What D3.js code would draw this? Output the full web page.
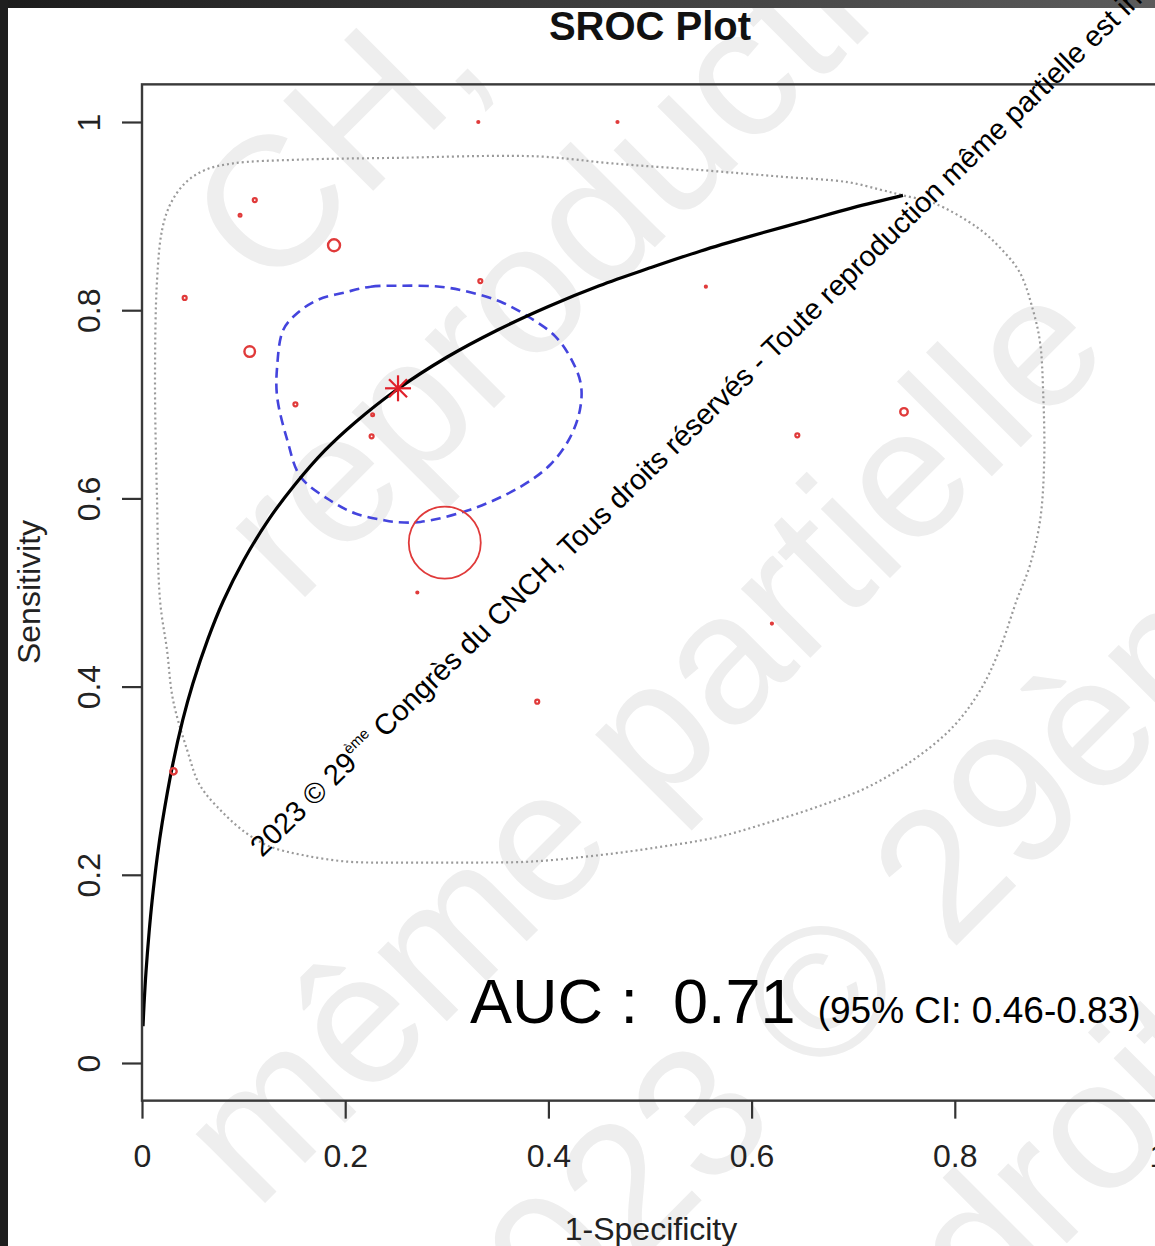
<!DOCTYPE html>
<html>
<head>
<meta charset="utf-8">
<script src="https://cdn.jsdelivr.net/npm/d3@7"></script>
<style>
  body { margin: 0; background: #fff; }
  svg { display: block; }
  text { font-family: "Liberation Sans", Arial, Helvetica, sans-serif; }
</style>
</head>
<body>
<svg id="chart" width="1155" height="1246"></svg>
<script>
// ---- data ---------------------------------------------------------------
const xTicks = [0, 0.2, 0.4, 0.6, 0.8, 1];
const yTicks = [0, 0.2, 0.4, 0.6, 0.8, 1];

// individual studies (false positive rate, sensitivity, weight)
const studyFpr  = [0.331, 0.468, 0.111, 0.0965, 0.189, 0.042, 0.333, 0.555, 0.106, 0.151,
                   0.227, 0.226, 0.750, 0.645, 0.298, 0.271, 0.620, 0.389, 0.031];
const studySens = [1.000, 1.000, 0.917, 0.901, 0.869, 0.813, 0.831, 0.825, 0.756, 0.700,
                   0.689, 0.666, 0.692, 0.667, 0.553, 0.500, 0.467, 0.384, 0.310];
const studyWeight = [1, 1, 4, 2, 36, 4, 4, 1, 28, 4, 2, 4, 14, 4, 1296, 1, 1, 4, 10];

// summary operating point
const summaryFpr = [0.252];
const summarySens = [0.717];

// SROC curve
const srocFpr  = [0.001, 0.002, 0.004, 0.007, 0.010, 0.015, 0.020, 0.030, 0.040, 0.050,
                  0.065, 0.080, 0.100, 0.125, 0.150, 0.180, 0.210, 0.250, 0.300, 0.350,
                  0.400, 0.450, 0.500, 0.550, 0.600, 0.650, 0.700, 0.749];
const srocSens = [0.039, 0.062, 0.098, 0.139, 0.173, 0.219, 0.256, 0.316, 0.364, 0.403,
                  0.451, 0.491, 0.534, 0.578, 0.614, 0.651, 0.681, 0.715, 0.750, 0.779,
                  0.804, 0.826, 0.845, 0.863, 0.879, 0.894, 0.909, 0.922];

// 95% confidence region of the summary point
const confFpr  = [0.200, 0.225, 0.254, 0.293, 0.323, 0.353, 0.382, 0.407, 0.423, 0.432,
                  0.431, 0.421, 0.402, 0.372, 0.323, 0.274, 0.249, 0.237, 0.210, 0.185,
                  0.156, 0.143, 0.133, 0.133, 0.139, 0.153, 0.173];
const confSens = [0.819, 0.825, 0.826, 0.825, 0.819, 0.809, 0.792, 0.772, 0.747, 0.721,
                  0.694, 0.664, 0.636, 0.612, 0.588, 0.575, 0.575, 0.577, 0.584, 0.598,
                  0.623, 0.662, 0.708, 0.740, 0.779, 0.797, 0.811];

// 95% prediction region
const predFpr  = [0.0148, 0.0197, 0.0276, 0.0423, 0.0620, 0.0896, 0.1555, 0.254, 0.352, 0.397,
                  0.463, 0.549, 0.628, 0.695, 0.727, 0.749, 0.779, 0.822, 0.844, 0.864,
                  0.877, 0.884, 0.887, 0.888, 0.884, 0.874, 0.861, 0.844, 0.825, 0.798,
                  0.759, 0.714, 0.664, 0.615, 0.566, 0.500, 0.451, 0.382, 0.316, 0.251,
                  0.202, 0.158, 0.126, 0.103, 0.0797, 0.0571, 0.0443, 0.0305, 0.0246, 0.0177,
                  0.0148, 0.0128];
const predSens = [0.832, 0.885, 0.912, 0.935, 0.949, 0.956, 0.960, 0.962, 0.964, 0.963,
                  0.956, 0.949, 0.942, 0.936, 0.928, 0.922, 0.914, 0.888, 0.867, 0.840,
                  0.800, 0.765, 0.712, 0.641, 0.577, 0.529, 0.492, 0.439, 0.396, 0.357,
                  0.322, 0.293, 0.272, 0.255, 0.240, 0.228, 0.221, 0.214, 0.213, 0.213,
                  0.214, 0.221, 0.230, 0.244, 0.266, 0.295, 0.333, 0.386, 0.439, 0.492,
                  0.598, 0.726];

const aucValue = "0.71";
const aucCiLow = "0.46";
const aucCiHigh = "0.83";

const titleText = "SROC Plot";
const xTitle = "1-Specificity";
const yTitle = "Sensitivity";

// ---- drawing ------------------------------------------------------------
const W = 1155, H = 1246;
const svg = d3.select("#chart");

const x = d3.scaleLinear().domain([0, 1]).range([142, 1158]);
const y = d3.scaleLinear().domain([0, 1]).range([1063, 122]);
const r = d3.scaleSqrt().domain([0, 1296]).range([0, 36]);

svg.append("rect").attr("width", W).attr("height", H).attr("fill", "#fff");

// faint background watermark
const wm = svg.append("g").attr("fill", "#eeeeee").attr("font-size", 185);
[
  { t: "CH,", x0: 268, y0: 296 },
  { t: "reproduction", x0: 296, y0: 606 },
  { t: "même partielle", x0: 256, y0: 1212 },
  { t: "2023 © 29ème", x0: 490, y0: 1412 },
  { t: "droits", x0: 985, y0: 1325 }
].forEach(d => {
  wm.append("text").attr("x", d.x0).attr("y", d.y0)
    .attr("transform", `rotate(-45,${d.x0},${d.y0})`).text(d.t);
});

// dark frame of the slide
const grad = svg.append("defs").append("linearGradient").attr("id", "topband");
grad.append("stop").attr("offset", "0%").attr("stop-color", "#1c1c1c");
grad.append("stop").attr("offset", "100%").attr("stop-color", "#5c5c5c");
svg.append("rect").attr("x", 0).attr("y", 0).attr("width", W).attr("height", 8).attr("fill", "url(#topband)");
svg.append("rect").attr("x", 0).attr("y", 0).attr("width", 8).attr("height", H).attr("fill", "#1e1e1e");

// title
svg.append("text").attr("x", 650).attr("y", 40).attr("text-anchor", "middle")
  .attr("font-size", 40).attr("font-weight", "bold").attr("fill", "#111").text(titleText);

// region outlines and curve
const closed = d3.line().x(d => x(d[0])).y(d => y(d[1])).curve(d3.curveCatmullRomClosed.alpha(0.5));
const open = d3.line().x(d => x(d[0])).y(d => y(d[1])).curve(d3.curveCatmullRom.alpha(0.5));

svg.append("path").datum(predFpr.map((v, i) => [v, predSens[i]]))
  .attr("d", closed).attr("fill", "none").attr("stroke", "#9a9a9a")
  .attr("stroke-width", 2.2).attr("stroke-dasharray", "2,3");

svg.append("path").datum(confFpr.map((v, i) => [v, confSens[i]]))
  .attr("d", closed).attr("fill", "none").attr("stroke", "#4444dd")
  .attr("stroke-width", 2.6).attr("stroke-dasharray", "10,6");

svg.append("path").datum(srocFpr.map((v, i) => [v, srocSens[i]]))
  .attr("d", open).attr("fill", "none").attr("stroke", "#000")
  .attr("stroke-width", 3.2).attr("stroke-linejoin", "round");

// studies
svg.append("g").selectAll("circle")
  .data(studyFpr.map((v, i) => ({ f: v, s: studySens[i], w: studyWeight[i] })))
  .join("circle")
  .attr("cx", d => x(d.f)).attr("cy", d => y(d.s)).attr("r", d => r(d.w))
  .attr("fill", "none").attr("stroke", "#e03a3a")
  .attr("stroke-width", d => d.w < 6 ? 2.2 : d.w < 100 ? 2.4 : 1.8);

// summary point (asterisk)
const star = svg.append("g").attr("stroke", "#e0202a").attr("stroke-width", 2.2);
summaryFpr.forEach((f, i) => {
  const cx = x(f), cy = y(summarySens[i]), a = 13, b = 9;
  star.append("line").attr("x1", cx - a).attr("y1", cy).attr("x2", cx + a).attr("y2", cy);
  star.append("line").attr("x1", cx).attr("y1", cy - a).attr("x2", cx).attr("y2", cy + a);
  star.append("line").attr("x1", cx - b).attr("y1", cy - b).attr("x2", cx + b).attr("y2", cy + b);
  star.append("line").attr("x1", cx - b).attr("y1", cy + b).attr("x2", cx + b).attr("y2", cy - b);
});

// plot frame (y range padded by 4%)
svg.append("rect").attr("x", x(0)).attr("y", y(1.04))
  .attr("width", x(1) - x(0)).attr("height", y(-0.04) - y(1.04))
  .attr("fill", "none").attr("stroke", "#3a3a3a").attr("stroke-width", 2.4);

// axes
const fmt = d => d === 0 ? "0" : d === 1 ? "1" : d3.format(".1f")(d);
const xAxis = svg.append("g").attr("transform", `translate(0,${y(-0.04)})`)
  .call(d3.axisBottom(x).tickValues(xTicks).tickFormat(fmt).tickSize(18).tickPadding(26));
xAxis.select(".domain").remove();
xAxis.selectAll(".tick line").attr("stroke", "#333").attr("stroke-width", 2.2);
xAxis.selectAll(".tick text").attr("font-size", 32).attr("fill", "#222")
  .attr("font-family", '"Liberation Sans", Arial, sans-serif');

const yAxis = svg.append("g").attr("transform", `translate(${x(0)},0)`)
  .call(d3.axisLeft(y).tickValues(yTicks).tickFormat(fmt).tickSize(20));
yAxis.select(".domain").remove();
yAxis.selectAll(".tick line").attr("stroke", "#333").attr("stroke-width", 2.2);
yAxis.selectAll(".tick text").attr("font-size", 32).attr("fill", "#222")
  .attr("font-family", '"Liberation Sans", Arial, sans-serif')
  .attr("x", null).attr("dy", null).attr("text-anchor", "middle")
  .attr("transform", "translate(-42,0) rotate(-90)");

// axis titles
svg.append("text").attr("x", 651).attr("y", 1240).attr("text-anchor", "middle")
  .attr("font-size", 32).attr("fill", "#222").text(xTitle);
svg.append("text").attr("transform", "translate(40,592) rotate(-90)").attr("text-anchor", "middle")
  .attr("font-size", 32).attr("fill", "#222").text(yTitle);

// AUC annotation
const auc = svg.append("text").attr("x", 470).attr("y", 1023).attr("fill", "#000");
auc.append("tspan").attr("font-size", 63).attr("xml:space", "preserve").text(`AUC :  ${aucValue}`);
auc.append("tspan").attr("font-size", 37).attr("dx", 22).text(`(95% CI: ${aucCiLow}-${aucCiHigh})`);

// diagonal copyright line
const cp = svg.append("text").attr("x", 262).attr("y", 858)
  .attr("transform", "rotate(-44.2,262,858)").attr("font-size", 29).attr("fill", "#000");
cp.append("tspan").text("2023 © 29");
cp.append("tspan").attr("font-size", 15).attr("dy", -13).text("ème");
cp.append("tspan").attr("dy", 13).text(" Congrès du CNCH, Tous droits réservés - Toute reproduction même partielle est interdite");
</script>
</body>
</html>
